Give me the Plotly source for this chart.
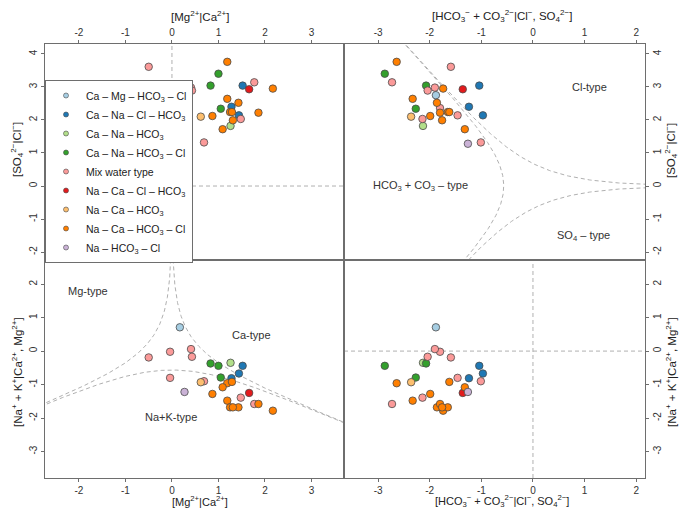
import numpy as np
import plotly.graph_objects as go

# ---------------- data ----------------
type_names = [
    "Ca – Mg – HCO<sub>3</sub> – Cl",
    "Ca – Na – Cl – HCO<sub>3</sub>",
    "Ca – Na – HCO<sub>3</sub>",
    "Ca – Na – HCO<sub>3</sub> – Cl",
    "Mix water type",
    "Na – Ca – Cl – HCO<sub>3</sub>",
    "Na – Ca – HCO<sub>3</sub>",
    "Na – Ca – HCO<sub>3</sub> – Cl",
    "Na – HCO<sub>3</sub> – Cl",
]
type_colors = ["#a6cee3", "#1f78b4", "#b2df8a", "#33a02c", "#fb9a99",
               "#e31a1c", "#fdbf6f", "#ff7f00", "#cab2d6"]

# water type index of each sample
sample_type = [0, 1, 1, 1, 2, 3, 3, 3,
               4, 4, 4, 4, 4, 4, 4, 4,
               5, 6, 7, 7, 7, 7, 7, 7, 7, 7, 7, 7, 8]
# [Mg2+|Ca2+]
mg_ca = [0.17, 1.52, 1.44, 1.28, 1.26, 1.00, 0.83, 1.05,
         -0.50, -0.04, 0.41, 0.43, -0.04, 0.69, 1.48, 1.77,
         1.66, 0.62, 1.19, 2.17, 1.19, 1.43, 1.25, 1.29, 1.86, 0.87, 1.31, 1.09, 0.27]
# [Na+ + K+|Ca2+, Mg2+]
nak_camg = [0.71, -0.44, -0.67, -0.81, -0.35, -0.44, -0.37, -0.79,
            -0.19, -0.02, 0.06, -0.17, -0.80, -0.90, -1.39, -1.58,
            -1.25, -0.93, -0.96, -1.78, -1.48, -1.68, -1.68, -0.92, -1.58, -1.28, -1.68, -1.08, -1.22]
# [HCO3- + CO3 2-|Cl-, SO4 2-]
hco3_clso4 = [-1.88, -1.04, -0.97, -1.24, -2.13, -2.87, -2.07, -2.27,
              -1.59, -1.80, -1.90, -2.04, -1.46, -1.01, -2.14, -2.73,
              -1.36, -2.36, -2.64, -1.74, -2.33, -1.86, -1.65, -1.62, -1.80, -1.99, -1.76, -1.32, -1.26]
# [SO4 2-|Cl-]
so4_cl = [2.75, 3.04, 2.14, 2.40, 1.82, 3.40, 3.04, 2.34,
          3.61, 2.36, 2.98, 2.89, 2.14, 1.32, 2.03, 3.14,
          2.93, 2.10, 3.76, 2.95, 2.64, 2.52, 2.24, 2.24, 2.22, 2.12, 1.99, 1.72, 1.28]

xl_ticks = [-2, -1, 0, 1, 2, 3]
xr_ticks = [-3, -2, -1, 0, 1, 2]
yt_ticks = [-2, -1, 0, 1, 2, 3, 4]
yb_ticks = [-3, -2, -1, 0, 1, 2]

# ---------------- ilr transforms for facies boundaries (50 % dominance) ----------------
def cation_ilr(ca, mg, na):
    return np.log(ca / mg) / np.sqrt(2), np.sqrt(2 / 3) * np.log(np.sqrt(ca * mg) / na)

def anion_ilr(hco3, cl, so4):
    return np.sqrt(2 / 3) * np.log(np.sqrt(cl * so4) / hco3), np.log(cl / so4) / np.sqrt(2)

s = np.linspace(-16, 16, 1200)
t = 0.5 / (1 + np.exp(-s))
half = np.full_like(t, 0.5)
cation_curves = [cation_ilr(half, t, 0.5 - t), cation_ilr(t, half, 0.5 - t), cation_ilr(t, 0.5 - t, half)]
anion_curves = [anion_ilr(half, t, 0.5 - t), anion_ilr(t, half, 0.5 - t), anion_ilr(t, 0.5 - t, half)]

# ---------------- figure ----------------
W, H = 685, 509
ml, mr, mt, mb = 45, 40, 44, 31
pw, ph = W - ml - mr, H - mt - mb
xsplit = (344 - ml) / pw
ysplit = (H - mb - 260) / ph

fig = go.Figure()
dash_line = dict(color="#b0b0b0", width=1, dash="4px,3px")

for cx, cy in cation_curves:
    fig.add_trace(go.Scatter(x=cx, y=cy, mode="lines", line=dash_line, showlegend=False,
                             hoverinfo="skip", xaxis="x3", yaxis="y3"))
for cx, cy in anion_curves:
    fig.add_trace(go.Scatter(x=cx, y=cy, mode="lines", line=dash_line, showlegend=False,
                             hoverinfo="skip", xaxis="x2", yaxis="y2"))

# straight reference lines at zero
fig.add_shape(type="line", xref="x", yref="y domain", x0=0, x1=0, y0=0, y1=1, line=dash_line, layer="below")
fig.add_shape(type="line", xref="x domain", yref="y", x0=0, x1=1, y0=0, y1=0, line=dash_line, layer="below")
fig.add_shape(type="line", xref="x4", yref="y4 domain", x0=0, x1=0, y0=0, y1=1, line=dash_line, layer="below")
fig.add_shape(type="line", xref="x4 domain", yref="y4", x0=0, x1=1, y0=0, y1=0, line=dash_line, layer="below")

panels = [("x", "y", mg_ca, so4_cl), ("x2", "y2", hco3_clso4, so4_cl),
          ("x3", "y3", mg_ca, nak_camg), ("x4", "y4", hco3_clso4, nak_camg)]

for k, (name, col) in enumerate(zip(type_names, type_colors)):
    idx = [i for i, ty in enumerate(sample_type) if ty == k]
    for xa, ya, xs, ys in panels:
        fig.add_trace(go.Scatter(
            x=[xs[i] for i in idx], y=[ys[i] for i in idx], mode="markers",
            marker=dict(size=7.5, color=col, line=dict(color="#4a4a4a", width=0.8)),
            showlegend=False, xaxis=xa, yaxis=ya, name=name))
    # legend entry with smaller symbol
    fig.add_trace(go.Scatter(x=[None], y=[None], mode="markers", name=name,
                             marker=dict(size=5, color=col, line=dict(color="#4a4a4a", width=0.6)),
                             xaxis="x", yaxis="y"))

axis_common = dict(showline=True, linecolor="#6e6e6e", linewidth=1, mirror=True,
                   ticks="outside", ticklen=3, tickcolor="#6e6e6e", showgrid=False,
                   zeroline=False, tickfont=dict(size=10, color="#333333"))

def ticks(vals):
    return dict(tickmode="array", tickvals=vals, ticktext=[str(v) for v in vals])

fig.update_layout(
    width=W, height=H, margin=dict(l=ml, r=mr, t=mt, b=mb),
    paper_bgcolor="white", plot_bgcolor="white",
    font=dict(family="Liberation Sans, Arial, sans-serif", color="#222222"),
    xaxis=dict(domain=[0, xsplit], anchor="y", side="top", range=[-2.73, 3.70], **ticks(xl_ticks), **axis_common),
    yaxis=dict(domain=[ysplit, 1], anchor="x", side="left", range=[-2.24, 4.30], tickangle=-90, **ticks(yt_ticks), **axis_common),
    xaxis2=dict(domain=[xsplit, 1], anchor="y2", side="top", range=[-3.66, 2.17], **ticks(xr_ticks), **axis_common),
    yaxis2=dict(domain=[ysplit, 1], anchor="x2", side="right", range=[-2.24, 4.30], tickangle=-90, **ticks(yt_ticks), **axis_common),
    xaxis3=dict(domain=[0, xsplit], anchor="y3", side="bottom", range=[-2.73, 3.70], **ticks(xl_ticks), **axis_common),
    yaxis3=dict(domain=[0, ysplit], anchor="x3", side="left", range=[-3.79, 2.72], tickangle=-90, **ticks(yb_ticks), **axis_common),
    xaxis4=dict(domain=[xsplit, 1], anchor="y4", side="bottom", range=[-3.66, 2.17], **ticks(xr_ticks), **axis_common),
    yaxis4=dict(domain=[0, ysplit], anchor="x4", side="right", range=[-3.79, 2.72], tickangle=-90, **ticks(yb_ticks), **axis_common),
    legend=dict(x=0, y=(H - mb - 80) / ph, xanchor="left", yanchor="top",
                bgcolor="white", bordercolor="#6e6e6e", borderwidth=1,
                font=dict(size=10.5, color="#222222"), itemwidth=30, tracegroupgap=0),
    showlegend=True,
)

def px_x(p):
    return (p - ml) / pw

def px_y(p):
    return (H - mb - p) / ph

title_font = dict(size=11.5, color="#222222")
bottom_font = dict(size=11, color="#222222")
mgca_t = "[Mg<sup>2+</sup>|Ca<sup>2+</sup>]"
anion_t = "[HCO<sub>3</sub><sup>−</sup> + CO<sub>3</sub><sup>2−</sup>|Cl<sup>−</sup>, SO<sub>4</sub><sup>2−</sup>]"
so4_t = "[SO<sub>4</sub><sup>2−</sup>|Cl<sup>−</sup>]"
cat_t = "[Na<sup>+</sup> + K<sup>+</sup>|Ca<sup>2+</sup>, Mg<sup>2+</sup>]"

annos = [
    dict(text=mgca_t, x=px_x(200), y=px_y(16), font=title_font),
    dict(text=anion_t, x=px_x(502), y=px_y(16), font=title_font),
    dict(text=mgca_t, x=px_x(200), y=px_y(501), font=bottom_font),
    dict(text=anion_t, x=px_x(502), y=px_y(501), font=bottom_font),
    dict(text=so4_t, x=px_x(17), y=px_y(150), textangle=-90, font=title_font),
    dict(text=cat_t, x=px_x(17), y=px_y(372), textangle=-90, font=title_font),
    dict(text=so4_t, x=px_x(671), y=px_y(150), textangle=-90, font=title_font),
    dict(text=cat_t, x=px_x(671), y=px_y(372), textangle=-90, font=title_font),
]
for a in annos:
    fig.add_annotation(xref="paper", yref="paper", showarrow=False,
                       xanchor="center", yanchor="middle", **a)

label_font = dict(size=11, color="#333333")
region_labels = [
    ("x2", "y2", 1.10, 3.00, "Cl-type"),
    ("x2", "y2", -2.17, 0.00, "HCO<sub>3</sub> + CO<sub>3</sub> – type"),
    ("x2", "y2", 0.97, -1.52, "SO<sub>4</sub> – type"),
    ("x3", "y3", -1.81, 1.79, "Mg-type"),
    ("x3", "y3", 1.72, 0.48, "Ca-type"),
    ("x3", "y3", -0.02, -1.97, "Na+K-type"),
]
for xa, ya, xv, yv, txt in region_labels:
    fig.add_annotation(xref=xa, yref=ya, x=xv, y=yv, text=txt, showarrow=False, font=label_font,
                       xanchor="center", yanchor="middle")

fig.write_html("out.html", config={"displayModeBar": False},
               post_script="document.body.style.margin='0px';")
